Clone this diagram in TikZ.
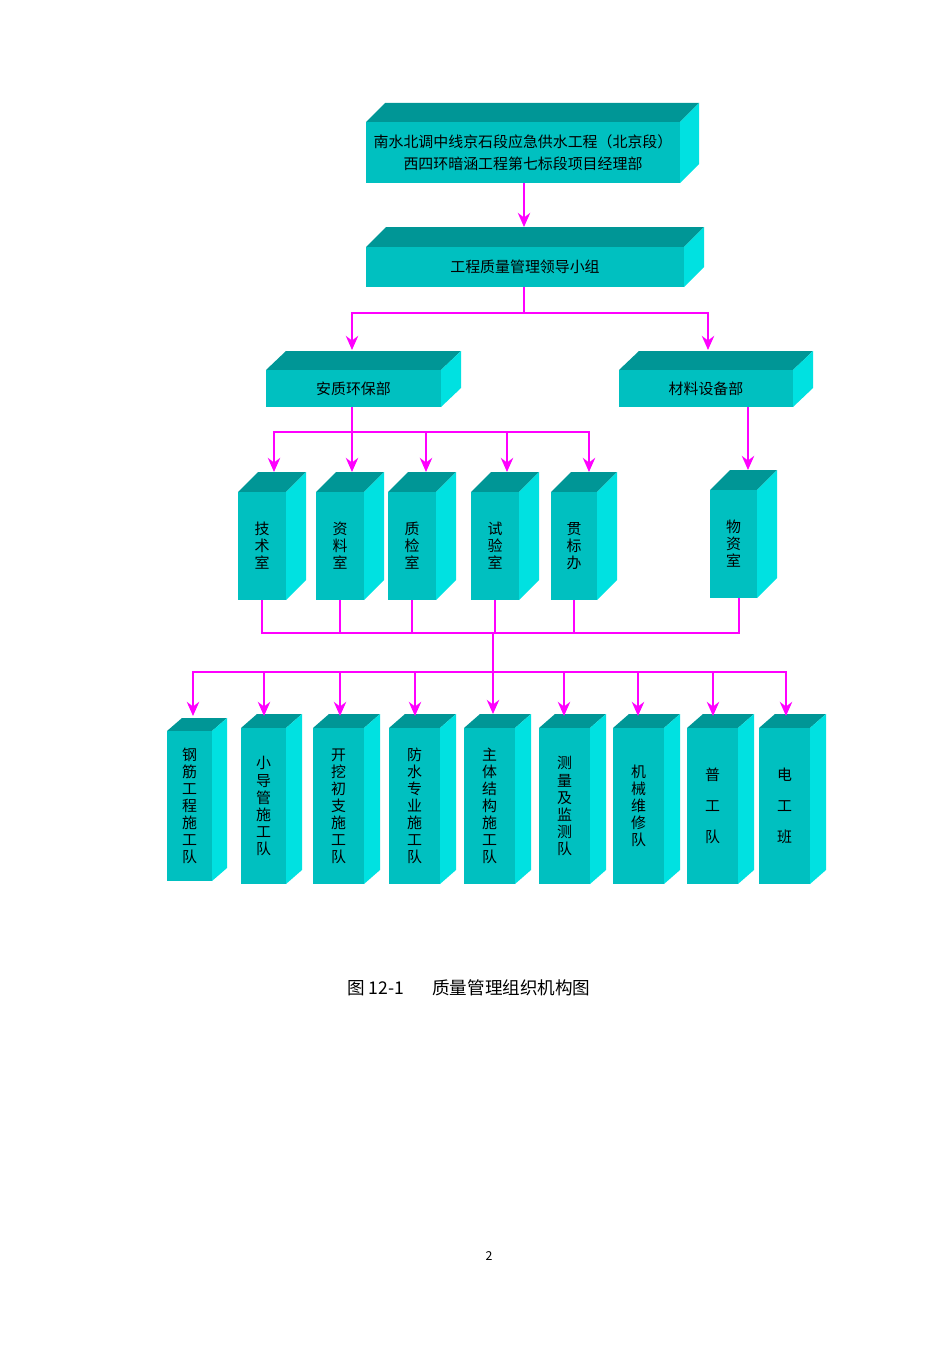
\documentclass[tikz,border=0pt]{standalone}
\usepackage{fontspec}
\setmainfont{Noto Sans CJK SC}
\usetikzlibrary{arrows.meta}
\definecolor{topc}{RGB}{0,150,150}
\definecolor{sidec}{RGB}{0,225,225}
\definecolor{frontc}{RGB}{0,192,192}
\definecolor{mag}{RGB}{255,0,255}
\tikzset{
 front/.style={fill=frontc,inner sep=0pt,align=center,font=\fontsize{8.5}{9.7}\selectfont},
 link/.style={draw=mag,line width=1.4pt},
 arr/.style={link,-{Stealth[length=8pt,width=7pt]}}
}
\newcommand\mycube[8]{%
 \fill[topc] (#2,#3) -- (#2+#6,#3-#7) -- (#4+#6,#3-#7) -- (#4,#3) -- cycle;
 \fill[sidec] (#4,#3) -- (#4+#6,#3-#7) -- (#4+#6,#5-#7) -- (#4,#5) -- cycle;
 \node[front,minimum width={(#4-#2)*0.02cm},minimum height={(#5-#3)*0.02cm}] (#1) at ({(#2+#4)/2},{(#3+#5)/2}) {#8};
 \coordinate (#1-in) at ({(#2+#4)/2},#3-#7);}
\begin{document}
\begin{tikzpicture}[x=0.02cm,y=-0.02cm]
\useasboundingbox (0,0) rectangle (950,1345);
\mycube{top}{366}{122}{680}{183}{19}{19}{南水北调中线京石段应急供水工程（北京段）\\[3pt]西四环暗涵工程第七标段项目经理部}
\mycube{lead}{366}{247}{684}{287}{20}{20}{工程质量管理领导小组}
\mycube{aq}{266}{370}{441}{407}{20}{19}{安质环保部}
\mycube{cl}{619}{370}{793}{407}{20}{19}{材料设备部}
\mycube{js}{238}{492}{286}{600}{20}{20}{技\\术\\室}
\mycube{zl}{316}{492}{364}{600}{20}{20}{资\\料\\室}
\mycube{zj}{388}{492}{436}{600}{20}{20}{质\\检\\室}
\mycube{sy}{471}{492}{519}{600}{20}{20}{试\\验\\室}
\mycube{gb}{551}{492}{597}{600}{20}{20}{贯\\标\\办}
\mycube{wz}{710}{490}{757}{598}{20}{20}{物\\资\\室}
\mycube{q1}{167}{731}{212}{881}{15}{13}{钢\\筋\\工\\程\\施\\工\\队}
\mycube{q2}{241}{728}{286}{884}{16}{14}{小\\导\\管\\施\\工\\队}
\mycube{q3}{313}{728}{364}{884}{16}{14}{开\\挖\\初\\支\\施\\工\\队}
\mycube{q4}{389}{728}{440}{884}{16}{14}{防\\水\\专\\业\\施\\工\\队}
\mycube{q5}{464}{728}{515}{884}{16}{14}{主\\体\\结\\构\\施\\工\\队}
\mycube{q6}{539}{728}{590}{884}{16}{14}{测\\量\\及\\监\\测\\队}
\mycube{q7}{613}{728}{664}{884}{16}{14}{机\\械\\维\\修\\队}
\mycube{q8}{687}{728}{738}{884}{16}{14}{普\\[8pt]工\\[8pt]队}
\mycube{q9}{759}{728}{810}{884}{16}{14}{电\\[8pt]工\\[8pt]班}
% arrow landing points
\coordinate (lt) at (524,227);
\coordinate (aqt) at (352,350);
\coordinate (clt) at (708,350);
\coordinate (jst) at (274,472);
\coordinate (zlt) at (352,472);
\coordinate (zjt) at (426,472);
\coordinate (syt) at (507,472);
\coordinate (gbt) at (589,472);
\coordinate (wzt) at (748,470);
\coordinate (q5t) at (493,714);
% connectors
\draw[arr] (lt |- top.south) -- (lt);
\coordinate (j1) at (524,313);
\draw[link] (j1 |- lead.south) -- (j1);
\draw[arr] (j1) -| (aqt);
\draw[arr] (j1) -| (clt);
\coordinate (j2) at (352,432);
\draw[link] (aq.south -| j2) -- (j2);
\foreach \n in {js,zj,sy,gb} \draw[arr] (j2) -| (\n t);
\draw[arr] (j2) -- (zlt);
\draw[arr] (cl.south -| wzt) -- (wzt);
\coordinate (j3) at (493,633);
\coordinate (wzb) at (739,598);
\foreach \n in {js,zl,zj,sy,gb} \draw[link] (\n.south) -- (\n.south |- j3) -- (j3);
\draw[link] (wzb) -- (wzb |- j3) -- (j3);
\coordinate (j4) at (493,672);
\draw[link] (j3) -- (j4);
\foreach \n/\xx in {q1/193,q2/264,q3/340,q4/415,q6/564,q7/638,q8/713,q9/786} \draw[arr] (j4) -| (\xx,716);
\draw[arr] (j4) -- (q5t);
\node[font=\fontsize{10}{12}\selectfont] (cap) at (469,988) {图 12-1\hspace{1.6em}质量管理组织机构图};
\node[font=\fontsize{7}{8}\selectfont] (pg) at (489,1256) {2};
\end{tikzpicture}
\end{document}
